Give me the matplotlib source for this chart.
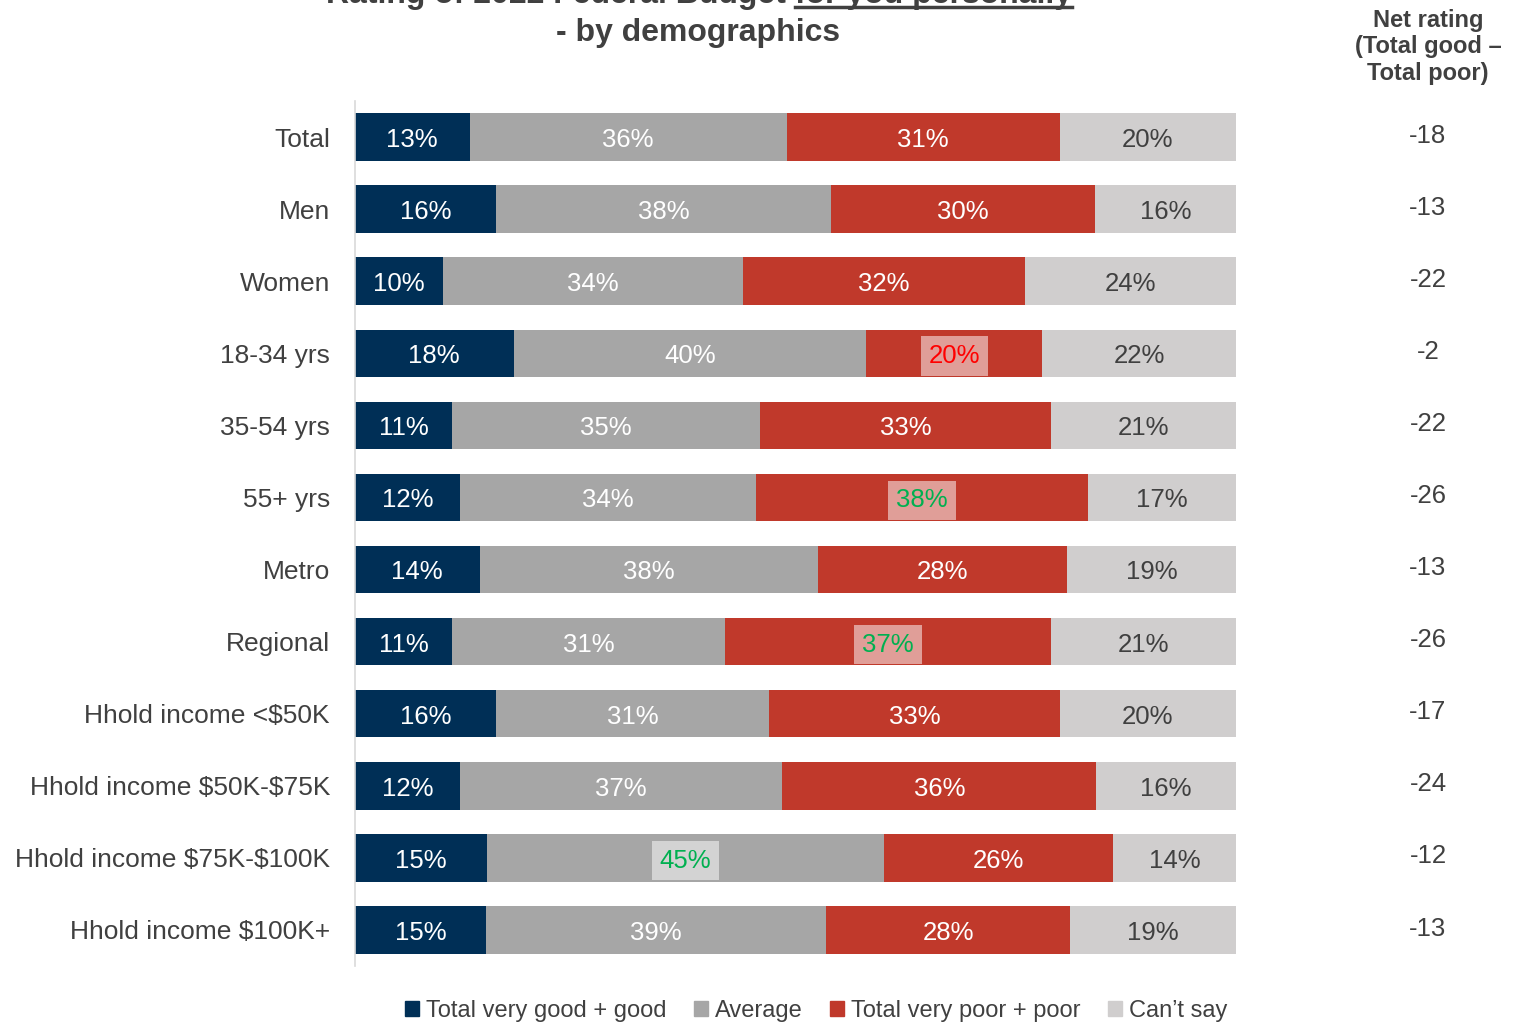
import numpy as np
import matplotlib.pyplot as plt
import matplotlib.transforms as mtransforms
from matplotlib.patches import Patch

plt.rcParams['font.family'] = ['Liberation Sans', 'DejaVu Sans']
plt.rcParams['text.parse_math'] = False

# -------------------------------
# DATA
# -------------------------------
cats = ['Total', 'Men', 'Women', '18-34 yrs', '35-54 yrs', '55+ yrs', 'Metro',
        'Regional', 'Hhold income <$50K', 'Hhold income $50K-$75K',
        'Hhold income $75K-$100K', 'Hhold income $100K+']
good = [13, 16, 10, 18, 11, 12, 14, 11, 16, 12, 15, 15]
avg = [36, 38, 34, 40, 35, 34, 38, 31, 31, 37, 45, 39]
poor = [31, 30, 32, 20, 33, 38, 28, 37, 33, 36, 26, 28]
cant = [20, 16, 24, 22, 21, 17, 19, 21, 20, 16, 14, 19]
net = [-18, -13, -22, -2, -22, -26, -13, -26, -17, -24, -12, -13]
series_names = ['Total very good + good', 'Average', 'Total very poor + poor', "Can\u2019t say"]

# highlighted labels: (row, series index) -> text colour
highlights = {(3, 2): '#FF0000', (5, 2): '#00B050', (7, 2): '#00B050', (10, 1): '#00B050'}

colors = ['#002F56', '#A6A6A6', '#C0392B', '#D0CECE']
label_colors = ['white', 'white', 'white', '#404040']
hl_bg = ['#E09E98', '#D3D3D3', '#E09E98', '#E09E98']
dark = '#404040'

fig = plt.figure(figsize=(15.19, 10.23), dpi=100)
ax = fig.add_axes([355 / 1519, 1 - 966 / 1023, 881 / 1519, 865 / 1023])

vals = np.array([good, avg, poor, cant], dtype=float)
shares = vals / vals.sum(axis=0)
y = np.arange(len(cats))
left = np.zeros(len(cats))
for k in range(4):
    ax.barh(y, shares[k], left=left, height=0.66, color=colors[k], label=series_names[k])
    for i in range(len(cats)):
        cx = left[i] + shares[k][i] / 2
        txt = f'{int(vals[k][i])}%'
        if (i, k) in highlights:
            ax.text(cx, i + 0.04, txt, ha='center', va='center', fontsize=18.5,
                    color=highlights[(i, k)],
                    bbox=dict(boxstyle='square,pad=0.3', fc=hl_bg[k], ec='none'))
        else:
            ax.text(cx, i + 0.04, txt, ha='center', va='center', fontsize=18.5,
                    color=label_colors[k])
    left += shares[k]

ax.set_xlim(0, 1)
ax.set_ylim(len(cats) - 0.5, -0.5)
ax.set_yticks(y)
ax.set_yticklabels(cats, fontsize=19, color=dark)
ax.tick_params(axis='y', length=0, pad=18)
ax.set_xticks([])
for s in ['top', 'right', 'bottom']:
    ax.spines[s].set_visible(False)
ax.spines['left'].set_color('#D9D9D9')
ax.spines['left'].set_linewidth(1.2)

# net rating column
tr = mtransforms.blended_transform_factory(fig.transFigure, ax.transData)
for i, v in enumerate(net):
    ax.text(1428 / 1519, i - 0.02, str(v), transform=tr, ha='center', va='center',
            fontsize=18.5, color=dark)
fig.text(1428 / 1519, 1 - 47 / 1023, 'Net rating\n(Total good \u2013\nTotal poor)',
         ha='center', va='center', fontsize=17, fontweight='bold', color=dark,
         linespacing=1.2)

# title (first line runs off the top edge, as in the source)
fig.text(698 / 1519, 1 - 41 / 1023, '- by demographics', ha='center', va='baseline',
         fontsize=23, fontweight='bold', color=dark)
t1 = fig.text(0, 1 - 3 / 1023, 'Rating of 2022 Federal Budget ', ha='left', va='baseline',
              fontsize=23, fontweight='bold', color=dark)
t2 = fig.text(0, 1 - 3 / 1023, 'for you personally', ha='left', va='baseline',
              fontsize=23, fontweight='bold', color=dark)
fig.canvas.draw()
r = fig.canvas.get_renderer()
w1 = t1.get_window_extent(r).width
w2 = t2.get_window_extent(r).width
x0 = 699 - (w1 + w2) / 2
t1.set_x(x0 / 1519)
t2.set_x((x0 + w1) / 1519)
fig.add_artist(plt.Line2D([(x0 + w1) / 1519, (x0 + w1 + w2) / 1519],
                          [1 - 7 / 1023, 1 - 7 / 1023], color=dark, lw=2.5))

handles = [Patch(color=c) for c in colors]
fig.legend(handles, series_names, loc='center', bbox_to_anchor=(816 / 1519, 1 - 1011 / 1023),
           ncol=4, frameon=False, fontsize=17, handlelength=0.6, handleheight=0.6,
           handletextpad=0.3, columnspacing=1.15, labelcolor=dark)

fig.savefig('out.png', dpi=100)
